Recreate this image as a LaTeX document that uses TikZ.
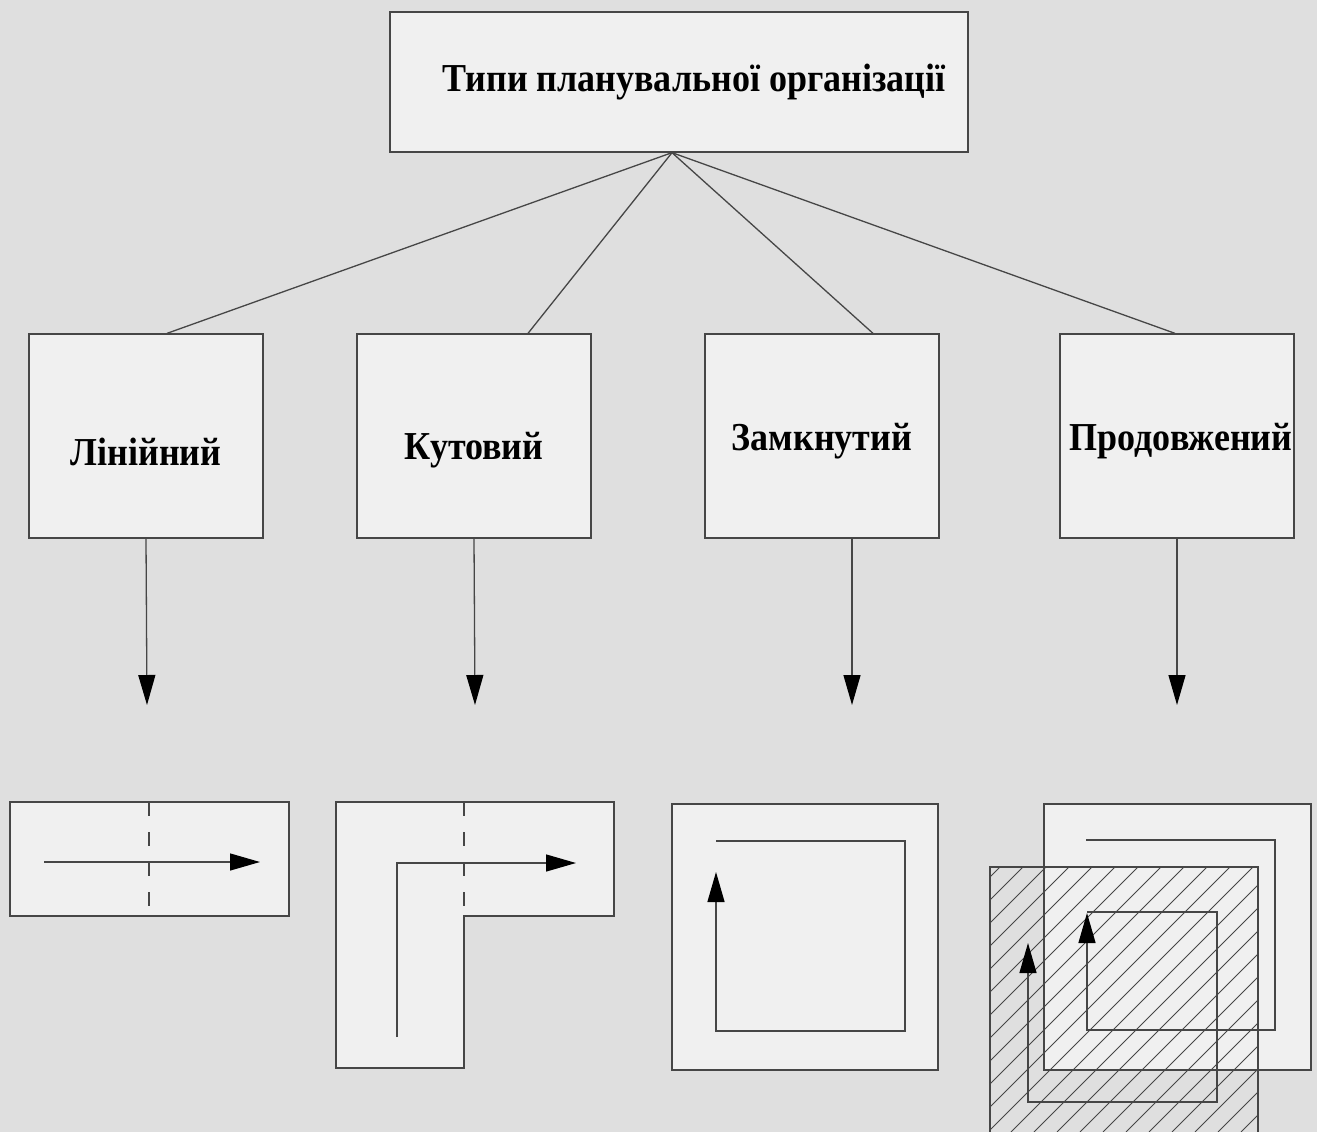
\documentclass[tikz,border=0pt]{standalone}
\usepackage{graphicx}
\usepackage{fontspec}
\setmainfont{Liberation Serif}
\usetikzlibrary{arrows.meta}
\definecolor{bgGray}{RGB}{223,223,223}
\definecolor{boxFill}{RGB}{240,240,240}
\definecolor{lineGray}{RGB}{70,70,70}
\newcommand{\tallt}[1]{\scalebox{1}[1.1]{#1}}

\begin{document}
\begin{tikzpicture}[x=1pt, y=-1pt, line width=1.3pt,
    titlebox/.style={draw=lineGray, fill=boxFill, minimum width=578pt, minimum height=140pt, inner sep=0pt,
      font=\fontsize{36}{42}\selectfont\bfseries},
    typebox/.style={draw=lineGray, fill=boxFill, minimum width=234pt, minimum height=204pt, inner sep=0pt},
    lbl/.style={font=\fontsize{36}{42}\selectfont\bfseries, inner sep=0pt},
    link/.style={draw=lineGray},
    down/.style={draw=lineGray, -{Triangle[length=30pt, width=17pt, color=black]}},
    plan/.style={draw=lineGray, fill=boxFill},
    route/.style={draw=lineGray, -{Triangle[length=30pt, width=17pt, color=black]}},
    cut/.style={draw=lineGray, dash pattern=on 14pt off 16pt},
    hatch/.style={draw=lineGray, line width=1pt}]
        % Background
        \fill[bgGray] (0,0) rectangle (1317,1132);
        \useasboundingbox (0,0) rectangle (1317,1132);
        % Boxes
        \node[titlebox] (title) at (679,82) {\hspace*{30pt}\tallt{Типи планувальної організації}};
        \node[typebox, label={[lbl, yshift=-16pt]center:\tallt{Лінійний}}] (lin) at (146,436) {};
        \node[typebox, label={[lbl, yshift=-14pt]center:\tallt{Кутовий}}] (kut) at (474,436) {};
        \node[typebox, label={[lbl, yshift=-5pt]center:\tallt{Замкнутий}}] (zam) at (822,436) {};
        \node[typebox, label={[lbl, yshift=-5pt, xshift=4pt]center:\tallt{Продовжений}}] (prod) at (1177,436) {};
        % Links
        \coordinate (apex) at ([xshift=-7pt]title.south);
        \draw[link] (apex) -- ([xshift=21pt]lin.north);
        \draw[link] (apex) -- ([xshift=54pt]kut.north);
        \draw[link] (apex) -- ([xshift=51pt]zam.north);
        \draw[link] (apex) -- ([xshift=-2pt]prod.north);
        % Arrows down
        \coordinate (linfig) at (147,705);
        \coordinate (kutfig) at (475,705);
        \coordinate (zamfig) at (852,705);
        \coordinate (prodfig) at (1177,705);
        \draw[down] (lin.south) -- (linfig);
        \draw[down] (kut.south) -- (kutfig);
        \draw[down] ([xshift=30pt]zam.south) -- (zamfig);
        \draw[down] (prod.south) -- (prodfig);
        % Linear
        \draw[plan] (10,802) rectangle (289,916);
        \draw[cut] (149,802) -- (149,916);
        \draw[route] (44,862) -- (260,862);
        % Angular
        \draw[plan] (336,802) -- (614,802) -- (614,916) -- (464,916) -- (464,1068) -- (336,1068) -- cycle;
        \draw[cut] (464,802) -- (464,916);
        \draw[route] (397,1037) -- (397,863) -- (576,863);
        % Closed
        \draw[plan] (672,804) rectangle (938,1070);
        \draw[route] (716,841) -- (905,841) -- (905,1031) -- (716,1031) -- (716,872);
        % Extended
        \draw[plan] (1044,804) rectangle (1311,1070);
        \begin{scope}
          \clip (990,867) rectangle (1258,1132);
          \foreach \k in {-2,...,23}
            \draw[hatch] ({1890+23*\k-1132},1132) -- ({1890+23*\k-867},867);
        \end{scope}
        \draw[link] (990,1132) -- (990,867) -- (1258,867) -- (1258,1132);
        \draw[route] (1086,840) -- (1275,840) -- (1275,1030) -- (1087,1030) -- (1087,913);
        \draw[route] (1087,912) -- (1217,912) -- (1217,1102) -- (1028,1102) -- (1028,943);
      \end{tikzpicture}
\end{document}
